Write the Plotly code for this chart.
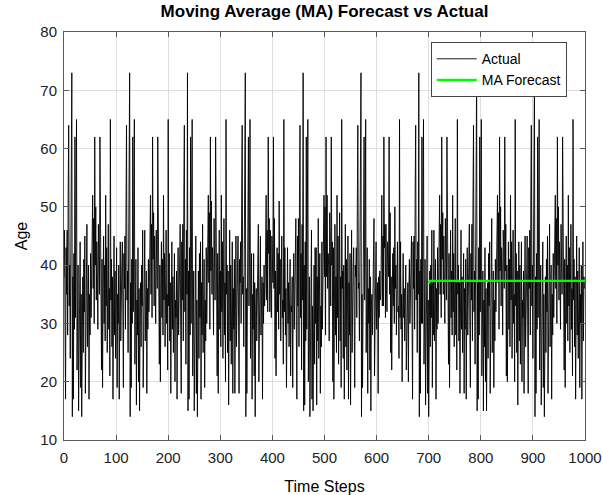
import plotly.graph_objects as go

# Observed ages per time step (1000 samples)
actual_age = [
    # steps 0-110
    38, 46, 30, 17, 43, 35, 46, 28, 52, 64, 33, 40, 24, 45, 36, 73, 14, 38, 17, 42,
    29, 62, 31, 44, 65, 22, 36, 40, 15, 33, 27, 44, 19, 35, 14, 30, 38, 25, 41, 32,
    45, 18, 36, 29, 47, 26, 33, 40, 17, 35, 28, 42, 31, 38, 45, 52, 36, 48, 30, 62,
    40, 50, 34, 44, 38, 29, 47, 42, 35, 62, 38, 46, 22, 41, 19, 36, 45, 30, 40, 27,
    52, 33, 43, 25, 38, 47, 29, 36, 21, 65, 34, 41, 26, 38, 17, 32, 45, 28, 39, 24,
    36, 43, 19, 35, 30, 40, 17, 33, 44, 27, 38,
    # steps 111-221
    40, 44, 31, 19, 42, 36, 45, 29, 50, 64, 34, 39, 25, 44, 37, 73, 14, 37, 19, 41,
    30, 62, 32, 43, 65, 23, 35, 41, 16, 34, 28, 43, 20, 36, 15, 31, 37, 26, 40, 33,
    46, 19, 35, 30, 46, 27, 34, 39, 18, 36, 29, 41, 32, 37, 44, 52, 35, 47, 31, 62,
    41, 49, 33, 45, 37, 30, 46, 41, 36, 62, 37, 47, 23, 40, 20, 35, 44, 31, 41, 28,
    52, 34, 42, 26, 37, 46, 30, 35, 22, 65, 33, 42, 27, 37, 18, 33, 44, 29, 38, 25,
    37, 42, 20, 34, 31, 39, 17, 34, 43, 28, 37,
    # steps 222-332
    37, 47, 29, 18, 44, 34, 47, 27, 52, 64, 32, 41, 23, 46, 35, 73, 15, 39, 17, 43,
    28, 62, 30, 45, 65, 21, 37, 39, 15, 32, 26, 45, 18, 34, 14, 29, 39, 24, 42, 31,
    44, 17, 37, 28, 47, 25, 32, 41, 19, 34, 27, 43, 30, 39, 46, 52, 37, 49, 29, 62,
    39, 51, 35, 43, 39, 28, 48, 43, 34, 62, 39, 45, 21, 42, 18, 37, 46, 29, 39, 26,
    52, 32, 44, 24, 39, 48, 28, 37, 20, 65, 35, 40, 25, 39, 16, 31, 46, 27, 40, 23,
    35, 44, 18, 36, 29, 41, 18, 32, 45, 26, 39,
    # steps 333-443
    39, 45, 32, 18, 41, 37, 44, 30, 51, 64, 35, 38, 26, 43, 38, 73, 14, 36, 18, 40,
    31, 62, 33, 42, 65, 24, 34, 42, 17, 35, 29, 42, 21, 37, 14, 32, 36, 27, 39, 34,
    47, 20, 34, 31, 45, 28, 35, 38, 17, 37, 30, 40, 33, 36, 43, 52, 34, 46, 32, 62,
    42, 48, 32, 46, 36, 31, 45, 40, 37, 62, 36, 48, 24, 39, 21, 34, 43, 32, 42, 29,
    51, 35, 41, 27, 36, 45, 31, 34, 23, 65, 32, 43, 28, 36, 19, 34, 43, 30, 37, 26,
    38, 41, 21, 33, 32, 38, 19, 35, 42, 29, 36,
    # steps 444-554
    36, 48, 28, 17, 45, 33, 48, 26, 52, 64, 31, 42, 22, 47, 34, 73, 15, 40, 16, 44,
    27, 62, 29, 46, 65, 20, 38, 38, 14, 31, 25, 46, 17, 33, 15, 28, 40, 23, 43, 30,
    43, 16, 38, 27, 48, 24, 31, 42, 18, 33, 26, 44, 29, 40, 47, 52, 38, 50, 28, 62,
    38, 52, 36, 42, 40, 27, 49, 44, 33, 62, 40, 44, 20, 43, 17, 38, 47, 28, 38, 25,
    52, 31, 45, 23, 40, 49, 27, 38, 19, 65, 36, 39, 24, 40, 17, 30, 47, 26, 41, 22,
    34, 45, 17, 37, 28, 42, 16, 31, 46, 25, 40,
    # steps 555-665
    40, 43, 33, 19, 40, 38, 43, 31, 50, 64, 36, 37, 27, 42, 39, 73, 14, 35, 19, 39,
    32, 62, 34, 41, 65, 25, 33, 43, 18, 36, 30, 41, 22, 38, 15, 33, 35, 28, 38, 35,
    48, 21, 33, 32, 44, 29, 36, 37, 18, 38, 31, 39, 34, 35, 42, 52, 33, 45, 33, 62,
    43, 47, 31, 47, 35, 32, 44, 39, 38, 62, 35, 49, 25, 38, 22, 33, 42, 33, 43, 30,
    50, 36, 40, 28, 35, 44, 32, 33, 24, 65, 31, 44, 29, 35, 20, 35, 42, 31, 36, 27,
    39, 40, 22, 32, 33, 37, 20, 36, 41, 30, 35,
    # steps 666-776
    39, 45, 31, 17, 44, 36, 45, 29, 52, 64, 34, 41, 25, 44, 35, 73, 14, 39, 18, 41,
    30, 62, 30, 43, 65, 23, 37, 41, 16, 32, 28, 45, 18, 34, 14, 31, 39, 26, 40, 31,
    46, 19, 37, 28, 46, 27, 32, 41, 17, 36, 29, 43, 30, 37, 46, 52, 35, 47, 31, 62,
    41, 49, 35, 45, 37, 30, 48, 41, 34, 62, 37, 45, 23, 42, 19, 35, 46, 31, 39, 28,
    52, 32, 42, 26, 37, 48, 28, 37, 22, 65, 35, 40, 27, 37, 18, 31, 46, 29, 38, 25,
    37, 42, 18, 36, 29, 41, 17, 32, 43, 28, 39,
    # steps 777-887
    37, 47, 29, 19, 42, 34, 47, 27, 51, 64, 32, 39, 23, 46, 37, 73, 15, 37, 17, 43,
    28, 62, 32, 45, 65, 21, 35, 39, 15, 34, 26, 43, 20, 36, 15, 29, 37, 24, 42, 33,
    44, 18, 35, 30, 48, 25, 34, 39, 19, 34, 27, 41, 32, 39, 44, 52, 37, 49, 29, 62,
    39, 50, 33, 43, 39, 28, 46, 43, 36, 62, 39, 47, 21, 40, 20, 37, 44, 29, 41, 26,
    52, 34, 44, 24, 39, 46, 30, 35, 20, 65, 33, 42, 25, 39, 16, 33, 44, 27, 40, 23,
    35, 44, 20, 34, 31, 39, 18, 34, 45, 26, 37,
    # steps 888-998
    38, 45, 30, 18, 43, 36, 46, 28, 52, 64, 33, 40, 24, 45, 36, 73, 14, 38, 18, 42,
    29, 62, 31, 44, 65, 22, 36, 40, 16, 33, 27, 44, 19, 35, 14, 30, 38, 25, 41, 32,
    45, 18, 36, 29, 47, 26, 33, 40, 17, 35, 28, 42, 31, 38, 45, 52, 36, 48, 30, 62,
    40, 50, 34, 44, 38, 29, 47, 42, 35, 62, 38, 46, 22, 41, 19, 36, 45, 30, 40, 27,
    52, 33, 43, 25, 38, 47, 29, 36, 21, 65, 34, 41, 26, 38, 17, 32, 45, 28, 39, 24,
    36, 43, 19, 35, 30, 40, 17, 33, 44, 27, 38,
    # step 999
    36,
]
time_steps = list(range(len(actual_age)))

# Moving-average forecast over the test window
forecast_steps = [700, 701, 703, 1000]
forecast_age = [36.9, 37.1, 37.3, 37.3]

x_ticks = [0, 100, 200, 300, 400, 500, 600, 700, 800, 900, 1000]
y_ticks = [10, 20, 30, 40, 50, 60, 70, 80]

fig = go.Figure()
fig.add_trace(go.Scatter(
    x=time_steps, y=actual_age, mode="lines", name="Actual",
    line=dict(color="black", width=0.9),
))
fig.add_trace(go.Scatter(
    x=forecast_steps, y=forecast_age, mode="lines", name="MA Forecast",
    line=dict(color="#00ff00", width=2.4),
))

axis_common = dict(
    showgrid=True, gridcolor="#dedede", gridwidth=1,
    showline=True, linecolor="#5a5a5a", linewidth=1, mirror="ticks",
    ticks="inside", ticklen=5, tickcolor="#5a5a5a",
    zeroline=False, automargin=False,
    tickfont=dict(size=15, color="#222222"),
)

fig.update_layout(
    width=603, height=495,
    margin=dict(l=64, r=18, t=32, b=55),
    paper_bgcolor="white", plot_bgcolor="white",
    font=dict(family="Arial, Liberation Sans, sans-serif", color="black"),
    title=dict(
        text="<b>Moving Average (MA) Forecast vs Actual</b>",
        x=(64 + 585) / 2 / 603, xanchor="center", y=0.978, yanchor="middle",
        font=dict(size=17, color="black"),
    ),
    xaxis=dict(
        range=[0, 1000], tickvals=x_ticks, ticklabelstandoff=4,
        title=dict(text="Time Steps", font=dict(size=16), standoff=18),
        **axis_common,
    ),
    yaxis=dict(
        range=[10, 80], tickvals=y_ticks, ticklabelstandoff=3,
        title=dict(text="Age", font=dict(size=16), standoff=8),
        **axis_common,
    ),
    legend=dict(
        x=0.965, y=0.975, xanchor="right", yanchor="top",
        bgcolor="white", bordercolor="#444444", borderwidth=1,
        font=dict(size=14, color="black"),
        tracegroupgap=0, itemwidth=40,
    ),
    showlegend=True,
)

fig.write_html("out.html")
